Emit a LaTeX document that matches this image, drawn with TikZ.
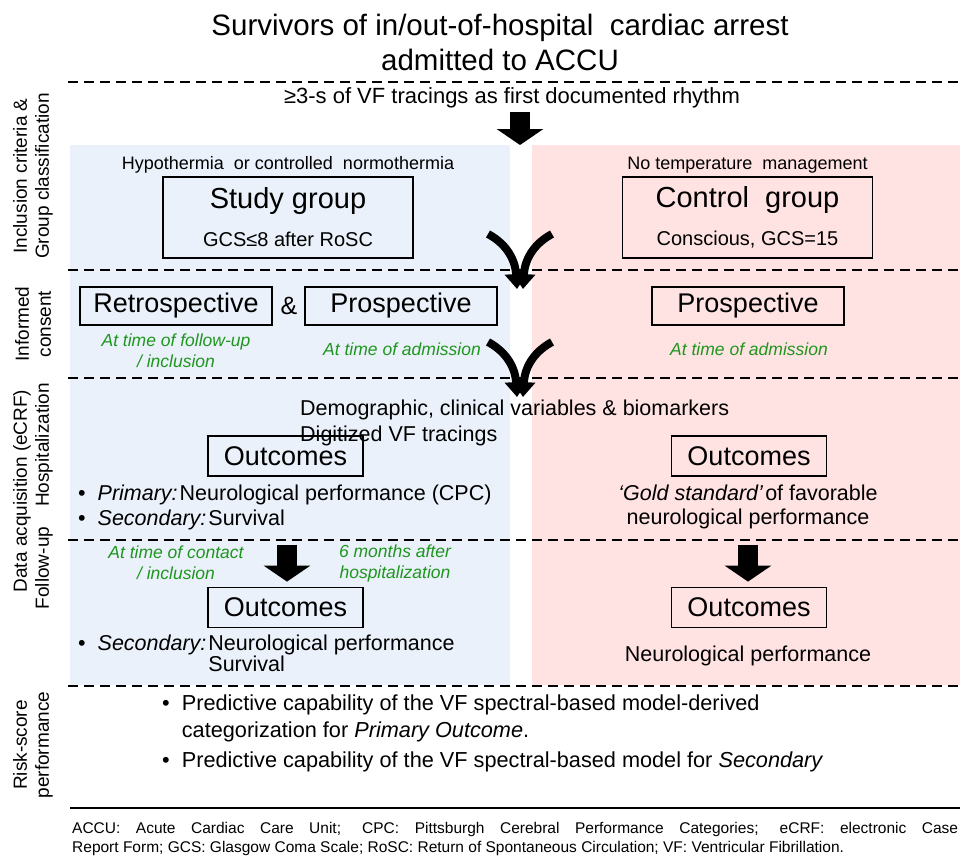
\documentclass[tikz,border=0pt]{standalone}
\usepackage{fontspec}
\setmainfont{Liberation Sans}
\usetikzlibrary{positioning, arrows.meta}
\definecolor{studybg}{RGB}{234,241,250}
\definecolor{controlbg}{RGB}{255,226,226}
\definecolor{notegreen}{RGB}{30,150,30}
\newcommand{\fsz}[2]{\fontsize{#1}{#2}\selectfont}

\begin{document}
\begin{tikzpicture}[x=1pt,y=-1pt,
    box/.style={draw, line width=1.8pt},
    groupbox/.style={box, minimum width=250pt, minimum height=81pt, align=center, font=\fsz{20}{38}},
    consbox/.style={box, minimum width=192pt, minimum height=38pt, font=\fsz{27}{30}},
    outbox/.style={box, minimum width=155pt, minimum height=40pt, font=\fsz{27}{30}},
    sep/.style={line width=2pt, dash pattern=on 10pt off 6pt},
    note/.style={text=notegreen, font=\fsz{17.5}{21}\itshape, align=center},
    side/.style={rotate=90, font=\fsz{19}{22}, align=center},
    bigarrow/.style={line width=20pt, -{Triangle[width=46pt,length=16pt]}},
    bendarrow/.style={line width=8pt, -{Triangle[width=22pt,length=15pt]}}]
    \useasboundingbox (0,0) rectangle (960,855);
    \fill[studybg] (70,145) rectangle (510,685);
    \fill[controlbg] (532,145) rectangle (960,685);
    \foreach \y in {82,270,378,540,686}
        \draw[sep] (68,\y) -- (960,\y);
    \draw[line width=2pt] (70,808) -- (960,808);

    % title and entry
    \node (title) at (500,42) [font=\fsz{29.5}{35}, align=center] {Survivors of in/out-of-hospital\ \ cardiac arrest\\admitted to ACCU};
    \node (rhythm) at (512,98) [font=\fsz{22}{24}] {≥3-s of VF tracings as first documented rhythm};
    \coordinate (split) at (520,145);
    \draw[bigarrow] (rhythm.south -| split) -- (split);

    % side labels
    \node (lincl) at (33,176) [side] {Inclusion criteria \&\\Group classification};
    \node (lcons) at (33,324) [side] {Informed\\consent};
    \node (ldata) at (22,491) [side] {Data acquisition (eCRF)};
    \node (lhosp) at (44,445) [side] {Hospitalization};
    \node (lfoll) at (44,568) [side] {Follow-up};
    \node (lrisk) at (33,745) [side] {Risk-score\\performance};

    % groups
    \node (study) at (288,217.5) [groupbox] {{\fsz{29}{38}Study group}\\GCS≤8 after RoSC};
    \node (control) at (747.5,217.5) [groupbox] {{\fsz{29}{38}Control\ \ group}\\Conscious, GCS=15};
    \node (hypo) [above=-1pt of study, font=\fsz{18}{20}] {Hypothermia\ \ or controlled\ \ normothermia};
    \node (notemp) [above=-1pt of control, font=\fsz{18}{20}] {No temperature\ \ management};
    \foreach \dy in {0,108}{
        \draw[bendarrow] (488,234+\dy) .. controls (503,242+\dy) and (515,256+\dy) .. (517,289+\dy);
        \draw[bendarrow] (552,234+\dy) .. controls (537,242+\dy) and (525,256+\dy) .. (523,289+\dy);
    }

    % consent
    \node (retro) at (176,306) [consbox] {Retrospective};
    \node (amp) at (289,306) [font=\fsz{25}{28}] {\&};
    \node (prosS) at (401,306) [consbox] {Prospective};
    \node (prosC) at (748,306) [consbox] {Prospective};
    \node (tretro) at (176,351) [note] {At time of follow-up\\/ inclusion};
    \node (tprosS) at (402,349) [note] {At time of admission};
    \node (tprosC) at (749,349) [note] {At time of admission};

    % hospitalization
    \node (demo) at (300,423) [anchor=west, inner sep=0pt, align=left, font=\fsz{21.5}{26}] {Demographic, clinical variables \& biomarkers\\Digitized VF tracings};
    \node (outHS) at (285.5,456) [outbox] {Outcomes};
    \node (outHC) at (749,456) [outbox] {Outcomes};
    \node (primS) at (78,507.5) [anchor=west, inner sep=0pt, align=left, font=\fsz{21.5}{25}] {\textbullet\ \ \textit{Primary:}\hspace{2pt}Neurological performance (CPC)\\\textbullet\ \ \textit{Secondary:}\hspace{2pt}Survival};
    \node (gold) at (748,507) [align=center, font=\fsz{21.5}{24}] {\textit{‘Gold standard’}\hspace{2pt}of favorable\\neurological performance};

    % follow-up
    \node (tcont) at (176,563) [note] {At time of contact\\/ inclusion};
    \node (tsix) at (395,563) [note] {6 months after\\hospitalization};
    \node (outFS) at (285.5,607.5) [outbox] {Outcomes};
    \node (outFC) at (749,607.5) [outbox] {Outcomes};
    \draw[bigarrow] ([xshift=1.5pt,yshift=42pt]outFS.north) -- ([xshift=1.5pt,yshift=5pt]outFS.north);
    \draw[bigarrow] ([xshift=-1pt,yshift=42pt]outFC.north) -- ([xshift=-1pt,yshift=5pt]outFC.north);
    \node (secS) at (78,655) [anchor=west, inner sep=0pt, align=left, font=\fsz{21.5}{21}] {\textbullet\ \ \textit{Secondary:}\hspace{2pt}Neurological performance\\\phantom{\textbullet\ \ \textit{Secondary:}\hspace{2pt}}Survival};
    \node (neuC) at (748,656) [font=\fsz{21.5}{24}] {Neurological performance};

    % risk score
    \node (risk) at (162,733) [anchor=west, inner sep=0pt, align=left, font=\fsz{21.7}{27}] {\textbullet\ \ Predictive capability of the VF spectral-based model-derived\\\phantom{\textbullet\ \ }categorization for \textit{Primary Outcome}.\\[3pt]\textbullet\ \ Predictive capability of the VF spectral-based model for \textit{Secondary}};

    % abbreviations
    \node (abbr) at (72,838.5) [anchor=west, inner sep=0pt, text width=886pt, align=justify, font=\fsz{15.5}{19}] {ACCU: Acute Cardiac Care Unit; CPC: Pittsburgh Cerebral Performance Categories; eCRF: electronic Case\linebreak Report Form; GCS: Glasgow Coma Scale; RoSC: Return of Spontaneous Circulation; VF: Ventricular Fibrillation.};
\end{tikzpicture}
\end{document}
